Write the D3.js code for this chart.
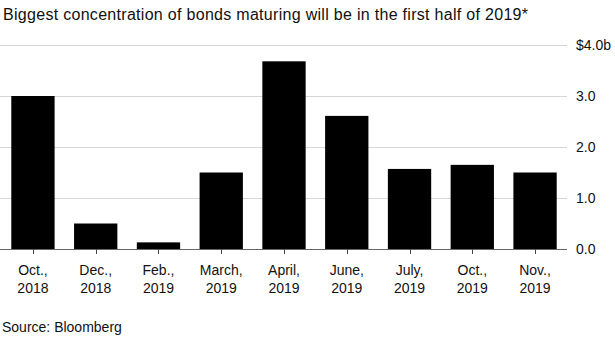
<!DOCTYPE html>
<html><head><meta charset="utf-8">
<script src="https://cdn.jsdelivr.net/npm/d3@7"></script>
<style>
body{margin:0;background:#fff;}
svg{display:block;font-family:"Liberation Sans",Arial,Helvetica,sans-serif;}
</style></head>
<body><svg id="c" width="615" height="337"></svg>
<script>
const months = ["Oct.,","Dec.,","Feb.,","March,","April,","June,","July,","Oct.,","Nov.,"];
const years = ["2018","2018","2019","2019","2019","2019","2019","2019","2019"];
const values = [3.0,0.5,0.13,1.5,3.68,2.61,1.57,1.65,1.5];
const yTicks = [0,1,2,3,4];
const yTickLabels = ["0.0","1.0","2.0","3.0","$4.0b"];

const svg = d3.select("#c");
const idx = d3.range(values.length);
const x = d3.scaleBand().domain(idx).range([0,568]).paddingInner(0.31).paddingOuter(0.18);
const y = d3.scaleLinear().domain([0,4]).range([249,45]);

svg.append("text").attr("x",3).attr("y",19.5).attr("font-size",16).attr("fill","#111")
  .attr("textLength",525).attr("lengthAdjust","spacing")
  .text("Biggest concentration of bonds maturing will be in the first half of 2019*");

// gridlines
svg.append("g").selectAll("line").data(yTicks.filter(d=>d>0)).join("line")
  .attr("x1",0).attr("x2",567).attr("y1",d=>y(d)+0.5).attr("y2",d=>y(d)+0.5)
  .attr("stroke","#d6d6d6").attr("stroke-width",1);

// y labels
svg.append("g").selectAll("text").data(yTicks).join("text")
  .attr("x",576).attr("y",d=>y(d)+5).attr("font-size",14).attr("fill","#111")
  .text((d,i)=>yTickLabels[i]);

// bars
svg.append("g").selectAll("rect").data(values).join("rect")
  .attr("x",(d,i)=>x(i)).attr("width",x.bandwidth())
  .attr("y",d=>y(d)).attr("height",d=>y(0)-y(d)).attr("fill","#000");

// baseline + ticks
svg.append("line").attr("x1",0).attr("x2",567).attr("y1",y(0)+0.5).attr("y2",y(0)+0.5)
  .attr("stroke","#666").attr("stroke-width",1);
svg.append("g").selectAll("line").data(idx).join("line")
  .attr("x1",i=>Math.round(x(i)+x.bandwidth()/2)+0.5).attr("x2",i=>Math.round(x(i)+x.bandwidth()/2)+0.5)
  .attr("y1",y(0)).attr("y2",y(0)+5).attr("stroke","#444");

const lab = svg.append("g").selectAll("text").data(idx).join("text")
  .attr("x",i=>x(i)+x.bandwidth()/2).attr("text-anchor","middle").attr("font-size",14).attr("fill","#111");
lab.append("tspan").attr("x",i=>x(i)+x.bandwidth()/2).attr("y",275).text(i=>months[i]);
lab.append("tspan").attr("x",i=>x(i)+x.bandwidth()/2).attr("y",293).text(i=>years[i]);

svg.append("text").attr("x",2).attr("y",332).attr("font-size",14).attr("fill","#111").text("Source: Bloomberg");
</script></body></html>
